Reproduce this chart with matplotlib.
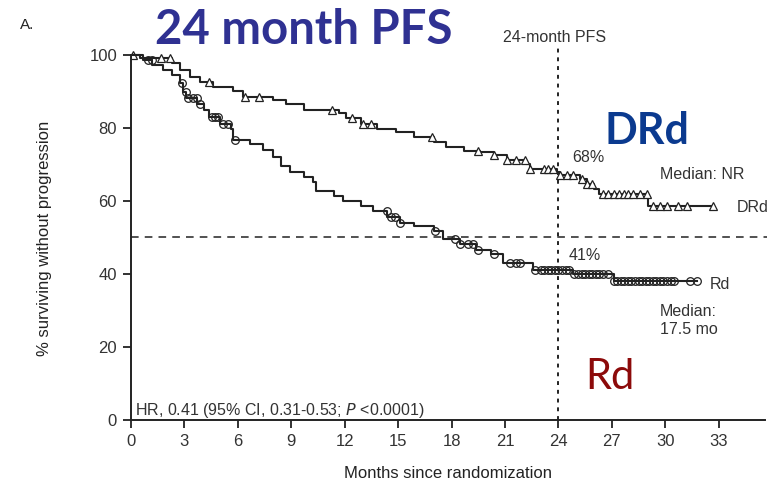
import numpy as np
import matplotlib.pyplot as plt

# Kaplan-Meier curves (months, % without progression)
drd_t = [0, 0.5, 2.3, 2.75, 3.3, 3.9, 4.6, 5.7, 6.3, 8.0, 8.7, 9.7, 11.7, 12.1, 12.9,
         13.8, 14.9, 15.9, 17.0, 17.7, 18.7, 19.6, 20.4, 21.1, 22.2, 22.4, 23.9, 24.1,
         25.2, 25.6, 26.0, 26.3, 29.05, 32.7]
drd_s = [100, 99.1, 97.7, 96, 94, 92.7, 91.3, 90, 88.5, 87.6, 86.7, 84.9, 84, 82.6, 81.2,
         79.8, 78.9, 77.5, 76.1, 74.8, 73.8, 73.4, 72.5, 71.1, 70.2, 68.8, 67.9, 67,
         66.1, 64.7, 63.3, 61.9, 58.6, 58.6]
drd_cens = [0.1, 1.7, 2.2, 4.4, 6.4, 7.2, 11.3, 12.4, 13.0, 13.5, 16.9, 19.5, 20.4, 21.1,
            21.6, 22.1, 22.4, 23.2, 23.4, 23.7, 24.1, 24.5, 24.8, 25.3, 25.6, 25.9, 26.5,
            26.8, 27.1, 27.4, 27.7, 27.9, 28.2, 28.6, 29.0, 29.3, 29.7, 30.1, 30.7, 31.2, 32.7]

rd_t = [0, 0.7, 1.2, 1.8, 2.3, 2.75, 2.9, 3.1, 3.7, 4.1, 4.4, 5.0, 5.6, 5.75, 6.7, 7.4,
        8.0, 8.4, 8.9, 9.7, 10.2, 10.4, 11.4, 11.9, 12.9, 13.6, 14.4, 15.1, 15.9, 17.0,
        17.5, 18.5, 19.4, 20.2, 20.9, 22.6, 24.8, 27.1, 31.8]
rd_s = [100, 98.6, 97.2, 95.9, 94.5, 92.2, 89.9, 88.1, 86.7, 84.9, 83, 81.2, 79.8, 76.6,
        75.7, 73.9, 72, 69.7, 67.9, 66.5, 65.1, 62.8, 61.5, 60.1, 58.7, 57.3, 55.5, 53.9,
        53.2, 51.8, 49.5, 48.1, 46.7, 45.4, 43.1, 41.2, 39.9, 38.0, 38.0]
rd_cens = [0.97, 1.16, 2.85, 3.09, 3.22, 3.5, 3.69, 3.88, 4.53, 4.72, 4.91, 5.19, 5.47,
           5.84, 14.36, 14.59, 14.83, 15.1, 17.08, 18.2, 18.5, 18.95, 19.2, 19.5, 20.4,
           21.3, 21.6, 21.85, 22.7, 23.0, 23.2, 23.4, 23.6, 23.8, 24.0, 24.2, 24.4, 24.6,
           24.9, 25.1, 25.3, 25.5, 25.7, 25.9, 26.1, 26.3, 26.5, 26.8, 27.1, 27.3, 27.5,
           27.7, 27.9, 28.1, 28.3, 28.5, 28.7, 28.9, 29.1, 29.3, 29.5, 29.7, 29.9, 30.1,
           30.3, 30.5, 31.4, 31.8]

xticks = list(range(0, 34, 3))
yticks = [0, 20, 40, 60, 80, 100]


def at(t, s, times):
    """Значение ступенчатой кривой в моменты цензурирования"""
    idx = np.searchsorted(t, times, side='right') - 1
    return np.array(s)[idx]


fig = plt.figure(figsize=(7.67, 4.84), dpi=100)
ax = fig.add_axes([131 / 767, 64 / 484, 634 / 767, 380 / 484])
ink = '#222222'
plain = ['Liberation Sans', 'DejaVu Sans']

ax.step(drd_t, drd_s, where='post', color=ink, lw=1.5)
ax.plot(drd_cens, at(drd_t, drd_s, drd_cens), ls='none', marker='^', ms=5.5,
        mfc='white', mec=ink, mew=0.9)
ax.step(rd_t, rd_s, where='post', color=ink, lw=1.5)
ax.plot(rd_cens, at(rd_t, rd_s, rd_cens), ls='none', marker='o', ms=5.5,
        mfc='none', mec=ink, mew=0.9)

# reference lines
ax.plot([0, 35.8], [50, 50], ls=(0, (5, 4)), color=ink, lw=1.1, clip_on=False)
ax.plot([24, 24], [0, 103], ls=(0, (2, 2.5)), color=ink, lw=1.4, clip_on=False)

ax.set_xlim(0, 35.6)
ax.set_ylim(0, 104.1)
ax.set_xticks(xticks)
ax.set_yticks(yticks)
for side in ['top', 'right']:
    ax.spines[side].set_visible(False)
ax.spines['left'].set_bounds(0, 100)
for side in ['left', 'bottom']:
    ax.spines[side].set_linewidth(1.4)
    ax.spines[side].set_color(ink)
ax.tick_params(length=6, width=1.3, color=ink, labelsize=12, labelcolor='#333333', pad=4)
for lab in ax.get_xticklabels() + ax.get_yticklabels():
    lab.set_family(plain)

ax.set_xlabel('Months since randomization', fontsize=12, color=ink, family=plain)
ax.xaxis.set_label_coords(0.5, -0.12)
ax.set_ylabel('% surviving without progression', fontsize=12, color=ink, family=plain)
ax.yaxis.set_label_coords(-0.125, 0.479)

kw = dict(fontsize=11.5, color='#333333', family=plain, va='center', clip_on=False)
ax.text(23.8, 104.7, '24-month PFS', ha='center', **kw)
ax.text(24.8, 71.9, '68%', **kw)
ax.text(29.7, 67.2, 'Median: NR', **kw)
ax.text(34.0, 58.1, 'DRd', **kw)
ax.text(24.6, 45.2, '41%', **kw)
ax.text(32.5, 37.2, 'Rd', **kw)
ax.text(29.7, 29.8, 'Median:', **kw)
ax.text(29.7, 24.8, '17.5 mo', **kw)
ax.text(0.25, 2.6, 'HR, 0.41 (95% CI, 0.31-0.53; $\\it{P}$ <0.0001)', **kw)

# big overlay labels
ax.text(26.6, 79.3, 'DRd', fontsize=31, fontweight='bold', color='#0b3a8f',
        family='Lato', va='center')
ax.text(25.5, 11.8, 'Rd', fontsize=30, color='#8c0a0a', family='Lato', va='center')
fig.text(155 / 767, 1 - 30 / 484, '24 month PFS', fontsize=34, fontweight='bold',
         color='#2f3192', family='Lato', va='center')
fig.text(20 / 767, 1 - 25 / 484, 'A.', fontsize=11, color=ink, family=plain, va='center')

fig.savefig('out.png', dpi=100)
